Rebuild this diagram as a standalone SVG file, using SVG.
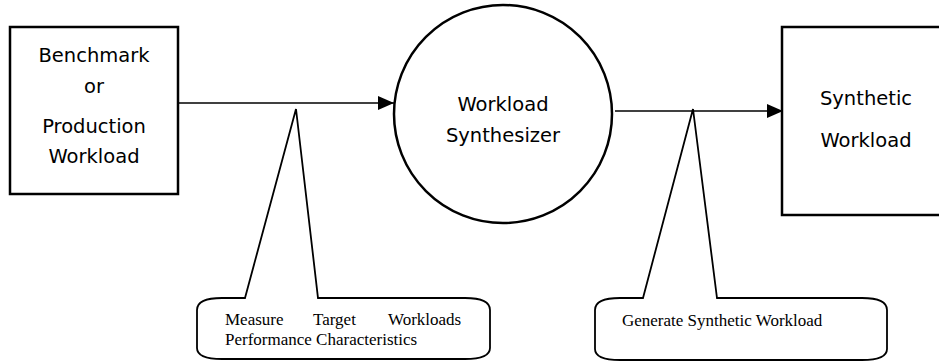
<svg xmlns="http://www.w3.org/2000/svg" width="939" height="362" viewBox="0 0 939 362">
<defs>
<marker id="arr" viewBox="0 0 16 14" refX="16" refY="7" markerWidth="16" markerHeight="14" markerUnits="userSpaceOnUse" orient="auto">
<path d="M0,0 L16,7 L0,14 Z" fill="#000"/>
</marker>
<style>
.box{fill:#fff;stroke:#000;stroke-width:2.5}
.lbl{font-family:"DejaVu Sans",sans-serif;font-size:19.5px;fill:#000;text-anchor:middle}
.conn{fill:none;stroke:#000;stroke-width:1.6}
.call{fill:#fff;stroke:#000;stroke-width:1.8;stroke-linejoin:miter}
.ctxt{font-family:"Liberation Serif","Times New Roman",serif;font-size:17px;fill:#000}
</style>
</defs>
<rect width="939" height="362" fill="#fff"/>
<g id="connectors">
<line class="conn" x1="178" y1="103" x2="394" y2="103" marker-end="url(#arr)"/>
<line class="conn" x1="615" y1="111" x2="783" y2="111" marker-end="url(#arr)"/>
</g>
<g id="source">
<rect class="box" x="10" y="27" width="168" height="167"/>
<text class="lbl" x="94" y="62">Benchmark</text>
<text class="lbl" x="94" y="93">or</text>
<text class="lbl" x="94" y="133">Production</text>
<text class="lbl" x="94" y="163">Workload</text>
</g>
<g id="synthesizer">
<circle class="box" cx="503" cy="114" r="109"/>
<text class="lbl" x="503" y="111">Workload</text>
<text class="lbl" x="503" y="142">Synthesizer</text>
</g>
<g id="synthetic">
<rect class="box" x="782" y="27" width="175" height="188"/>
<text class="lbl" x="866" y="105">Synthetic</text>
<text class="lbl" x="866" y="147">Workload</text>
</g>
<g id="callout-measure">
<path class="call" d="M245,298 L296,109 L318,298 L465,298 Q490,298 490,310 L490,348 Q490,359 465,359 L222,359 Q197,359 197,348 L197,310 Q197,298 222,298 Z"/>
<text class="ctxt" x="225" y="325">Measure</text>
<text class="ctxt" x="313" y="325">Target</text>
<text class="ctxt" x="388" y="325">Workloads</text>
<text class="ctxt" x="225" y="345">Performance Characteristics</text>
</g>
<g id="callout-generate">
<path class="call" d="M643,298 L693,109 L717,298 L862,298 Q887,298 887,310 L887,349 Q887,360 862,360 L620,360 Q595,360 595,349 L595,310 Q595,298 620,298 Z"/>
<text class="ctxt" x="622" y="326">Generate Synthetic Workload</text>
</g>
</svg>
